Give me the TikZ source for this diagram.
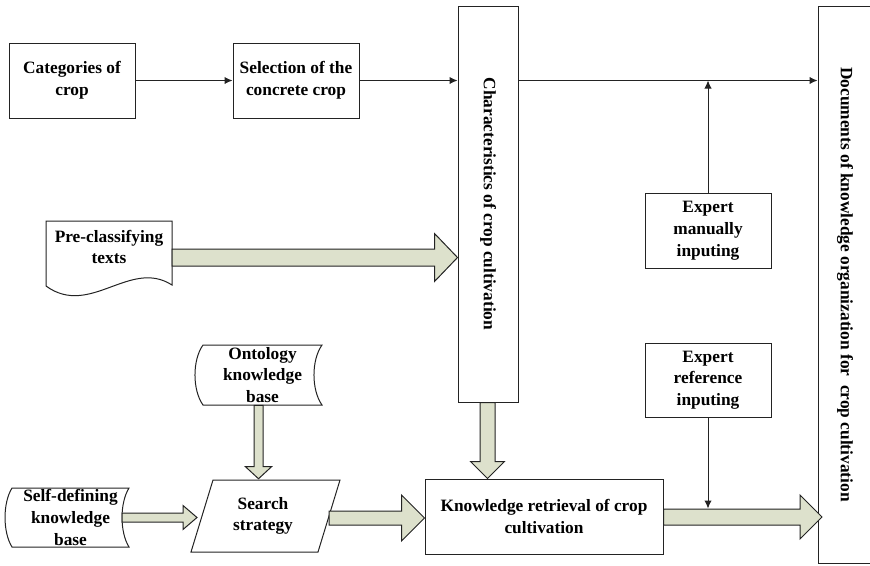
\documentclass[tikz,border=0pt]{standalone}
\usepackage{fontspec}
\setmainfont{Liberation Serif}
\usetikzlibrary{calc,arrows.meta}
\definecolor{fatfill}{RGB}{221,225,204}
\definecolor{lc}{RGB}{35,35,35}
\newcommand{\myhfat}[5]{%
 \draw[fatarrow] ($(#1)+(0,-#3)$) -- ($(#2)+(-#5,-#3)$) -- ($(#2)+(-#5,-#4)$) -- (#2) -- ($(#2)+(-#5,#4)$) -- ($(#2)+(-#5,#3)$) -- ($(#1)+(0,#3)$) -- cycle;}
\newcommand{\myvfat}[5]{%
 \draw[fatarrow] ($(#1)+(-#3,0)$) -- ($(#2)+(-#3,-#5)$) -- ($(#2)+(-#4,-#5)$) -- (#2) -- ($(#2)+(#4,-#5)$) -- ($(#2)+(#3,-#5)$) -- ($(#1)+(#3,0)$) -- cycle;}
\tikzset{
  txt/.style={font=\fontsize{13}{16.3}\selectfont\bfseries, align=center, inner sep=0pt},
  box/.style={txt, draw=lc, line width=0.75pt, rectangle},
  vtext/.style={font=\fontsize{13}{16.3}\selectfont\bfseries, inner sep=0pt, rotate=-90},
  shapeline/.style={draw=lc, line width=0.75pt},
  fatarrow/.style={draw=lc, line width=0.75pt, fill=fatfill, line join=miter},
  thin/.style={draw=lc, line width=0.75pt, -{Latex[length=6pt,width=5.5pt]}},
}
\begin{document}
\begin{tikzpicture}[x=0.75pt,y=-0.75pt]
\useasboundingbox (0,0) rectangle (870,565);

% plain boxes
\node[box, minimum width=94.5pt, minimum height=56.25pt] (cat) at (72,80.5) {Categories of\\crop};
\node[box, minimum width=94.5pt, minimum height=56.25pt] (sel) at (296,80.5) {Selection of the\\concrete crop};
\node[box, minimum width=45pt, minimum height=297pt] (char) at (488,204) {};
\node[vtext] (chartext) at (char.center) {Characteristics of crop cultivation};
\node[box, minimum width=61.5pt, minimum height=417.75pt] (docs) at (859,284.5) {};
\node[vtext] (docstext) at (845,284.5) {Documents of knowledge organization for\ \ crop cultivation};
\node[box, minimum width=94.5pt, minimum height=56.25pt] (man) at (708,230.5) {Expert\\manually\\inputing};
\node[box, minimum width=94.5pt, minimum height=55.5pt] (ref) at (708,380) {Expert\\reference\\inputing};
\node[box, minimum width=178.5pt, minimum height=56.25pt] (kr) at (544,516.5) {Knowledge retrieval of crop\\cultivation};

% document shape
\node[txt, minimum width=94.5pt, minimum height=39pt] (pre) at (109,247) {Pre-classifying\\texts};
\draw[shapeline] (46,221) -- (172,221) -- (172,285) .. controls (130,258) and (90,318) .. (46,286) -- cycle;

% stored data shapes
\node[txt, minimum width=89pt, minimum height=45pt] (onto) at (262.5,375) {Ontology\\knowledge\\base};
\draw[shapeline] (203,345) -- (322,345) .. controls (311.3,360) and (311.3,390) .. (322,405) -- (203,405) .. controls (192.3,390) and (192.3,360) .. (203,345) -- cycle;
\node[txt, minimum width=88pt, minimum height=44pt] (self) at (70.5,517.5) {Self-defining\\knowledge\\base};
\draw[shapeline] (12,488) -- (129,488) .. controls (119.7,503) and (119.7,532) .. (129,547) -- (12,547) .. controls (2.7,532) and (2.7,503) .. (12,488) -- cycle;

% parallelogram
\node[txt, minimum width=80pt, minimum height=54pt] (search) at (263,516) {Search\\strategy};
\draw[shapeline] (213,480) -- (340,480) -- (318,552) -- (191,552) -- cycle;

% thin arrows
\draw[thin] (cat.east) -- (sel.west);
\draw[thin] (sel.east) -- (char.west |- sel.east);
\draw[thin] (char.east |- sel.east) -- (docs.west |- sel.east);
\draw[thin] (man.north) -- (man.north |- sel.east);
\coordinate (join) at (708,508.5);
\draw[thin] (ref.south) -- (join);

% fat arrows
\coordinate (f1s) at (172,257.5);
\coordinate (f1e) at (char.west |- f1s);
\myhfat{f1s}{f1e}{8.5}{24}{23}
\coordinate (f2s) at ($(onto.south)+(-4,0)$);
\coordinate (f2t) at (f2s |- search.north);
\coordinate (f2e) at ($(f2t)+(0,-1)$);
\myvfat{f2s}{f2e}{4.5}{13}{12}
\coordinate (f3s) at (122,517.5);
\coordinate (f3e) at (197,517.5);
\myhfat{f3s}{f3e}{4.5}{12}{14}
\coordinate (f4s) at (329,518);
\coordinate (f4e) at (kr.west |- f4s);
\myhfat{f4s}{f4e}{7}{23}{23}
\coordinate (f5s) at ($(char.south)+(-0.5,0)$);
\coordinate (f5e) at (f5s |- kr.north);
\myvfat{f5s}{f5e}{7.5}{17}{17}
\coordinate (f6r) at (0,517);
\coordinate (f6s) at (kr.east |- f6r);
\coordinate (f6e) at (822,517);
\myhfat{f6s}{f6e}{8}{22}{22}
\end{tikzpicture}
\end{document}
